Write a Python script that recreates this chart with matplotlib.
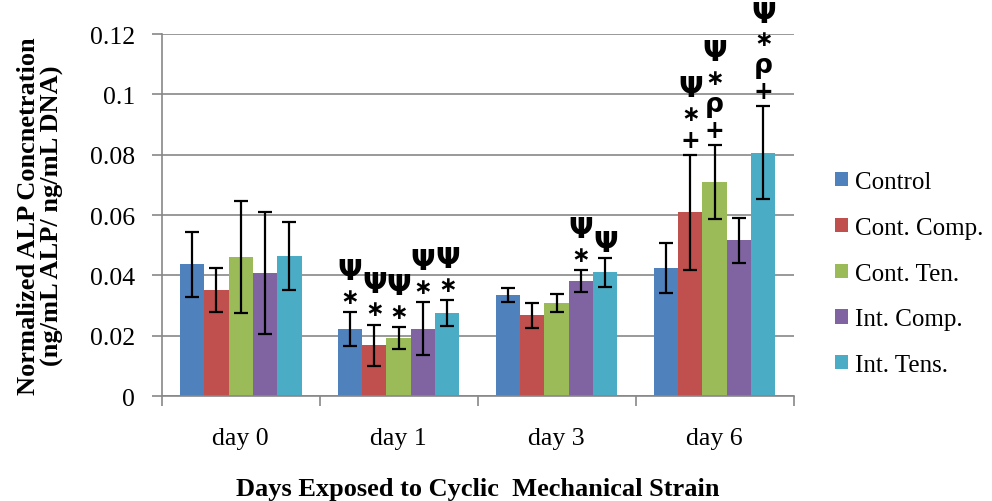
import matplotlib
matplotlib.use("Agg")
import matplotlib.pyplot as plt
import numpy as np

groups = ["day 0", "day 1", "day 3", "day 6"]
series = ["Control", "Cont. Comp.", "Cont. Ten.", "Int. Comp.", "Int. Tens."]
colors = ["#4F81BD", "#C0504D", "#9BBB59", "#8064A2", "#4BACC6"]

control = [0.0437, 0.0222, 0.0336, 0.0424]
cont_comp = [0.0353, 0.0169, 0.0268, 0.0609]
cont_ten = [0.0461, 0.0192, 0.0308, 0.0710]
int_comp = [0.0407, 0.0224, 0.0382, 0.0516]
int_tens = [0.0464, 0.0275, 0.0410, 0.0807]

err_control = [0.0107, 0.0057, 0.0023, 0.0082]
err_cont_comp = [0.0073, 0.0068, 0.0042, 0.0190]
err_cont_ten = [0.0187, 0.0037, 0.0030, 0.0123]
err_int_comp = [0.0202, 0.0087, 0.0036, 0.0074]
err_int_tens = [0.0113, 0.0044, 0.0048, 0.0155]

# significance marks, listed top to bottom
ann_control = ["", "Ψ\n*", "", ""]
ann_cont_comp = ["", "Ψ\n*", "", "Ψ\n*\n+"]
ann_cont_ten = ["", "Ψ\n*", "", "Ψ\n*\nρ\n+"]
ann_int_comp = ["", "Ψ\n*", "Ψ\n*", ""]
ann_int_tens = ["", "Ψ\n*", "Ψ", "Ψ\n*\nρ\n+"]

values = [control, cont_comp, cont_ten, int_comp, int_tens]
errors = [err_control, err_cont_comp, err_cont_ten, err_int_comp, err_int_tens]
anns = [ann_control, ann_cont_comp, ann_cont_ten, ann_int_comp, ann_int_tens]

# glyph styling for the marks
glyph = {"Ψ": ("Ψ", 21, "bold"), "*": ("∗", 16, "bold"),
         "ρ": ("ρ", 19, "bold"), "+": ("+", 17, "bold")}

plt.rcParams['font.family'] = ['Liberation Serif', 'DejaVu Serif']

fig = plt.figure(figsize=(9.92, 5.02), dpi=100)
ax = fig.add_axes([0.163, 0.209, 0.637, 0.721])

x = np.arange(len(groups))
w = 0.154
for i, (vals, errs, ann, c, name) in enumerate(zip(values, errors, anns, colors, series)):
    pos = x + (i - 2) * w
    ax.bar(pos, vals, width=w, color=c, label=name, zorder=2)
    ax.errorbar(pos, vals, yerr=errs, fmt='none', ecolor='black', elinewidth=1.6,
                capsize=5, capthick=1.6, zorder=3)
    for p, v, e, a in zip(pos, vals, errs, ann):
        if not a:
            continue
        for k, sym in enumerate(reversed(a.split("\n"))):
            g, fs, fw = glyph[sym]
            ax.annotate(g, (p, v + e), xytext=(0, 11 + 18.5 * k),
                        textcoords='offset points', ha='center', va='center',
                        fontsize=fs, fontweight=fw, family='DejaVu Sans', zorder=4)

ax.set_xlim(-0.5, len(groups) - 0.5)
ax.set_ylim(0, 0.12)
ax.set_yticks([0, 0.02, 0.04, 0.06, 0.08, 0.1, 0.12])
ax.set_yticklabels(["0", "0.02", "0.04", "0.06", "0.08", "0.1", "0.12"])
ax.set_xticks(x)
ax.set_xticklabels(groups)
ax.set_xticks(np.arange(-0.5, len(groups)), minor=True)
ax.tick_params(axis='x', which='major', length=0, labelsize=18.5, pad=22)
ax.tick_params(axis='x', which='minor', length=7, color='#878787', width=1.2)
ax.tick_params(axis='y', length=7, color='#878787', width=1.2, labelsize=18.5, pad=12)
ax.yaxis.grid(True, color='#878787', linewidth=1.2, zorder=0)
ax.set_axisbelow(True)
for s in ['top', 'right']:
    ax.spines[s].set_visible(False)
for s in ['left', 'bottom']:
    ax.spines[s].set_color('#878787')
    ax.spines[s].set_linewidth(1.2)

ax.set_ylabel("Normalized ALP Concnetration\n(ng/mL ALP/ ng/mL DNA)", fontsize=19,
              fontweight='bold', linespacing=1.0, labelpad=19)
ax.set_xlabel("Days Exposed to Cyclic  Mechanical Strain", fontsize=19,
              fontweight='bold', va='center')
ax.xaxis.set_label_coords(0.5, -0.255)

ax.legend(loc='center left', bbox_to_anchor=(1.03, 0.338), frameon=False,
          fontsize=18, handlelength=0.5, handleheight=0.5, handletextpad=0.3,
          labelspacing=0.95)

fig.savefig("out.png", dpi=100)
